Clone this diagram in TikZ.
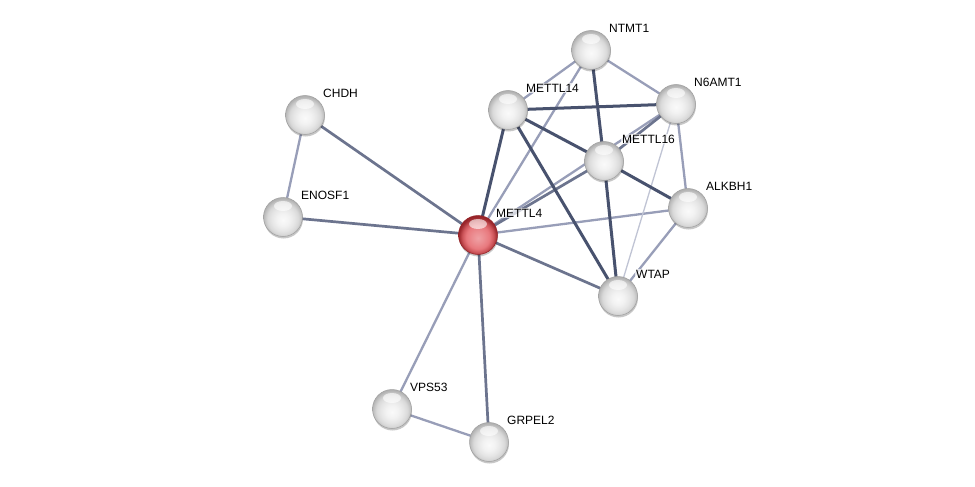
\documentclass[tikz,border=0pt]{standalone}
\usepackage{fontspec}
\setmainfont{Liberation Sans}
\usetikzlibrary{shadows}
\definecolor{edark}{RGB}{72,82,110}
\definecolor{emed}{RGB}{108,116,142}
\definecolor{elight}{RGB}{152,158,184}
\definecolor{evlight}{RGB}{192,196,212}
\definecolor{rbody}{RGB}{232,120,125}
\definecolor{rmid}{RGB}{205,85,90}
\definecolor{rrim}{RGB}{150,35,40}
\pgfdeclareradialshading{sball}{\pgfpoint{0bp}{-4bp}}{%
  color(0bp)=(gray!4); color(8bp)=(gray!10); color(15bp)=(gray!20); color(20bp)=(gray!30);
  color(24bp)=(gray!50); color(26bp)=(gray!62); color(50bp)=(gray!62)}
\pgfdeclareradialshading{rball}{\pgfpoint{0bp}{-4bp}}{%
  color(0bp)=(rbody!70!white); color(8bp)=(rbody!85!white); color(15bp)=(rbody); color(20bp)=(rmid);
  color(24bp)=(rrim!80!rmid); color(26bp)=(rrim); color(50bp)=(rrim)}
\tikzset{
  protein/.style={circle,minimum size=39pt,inner sep=0pt,shading=sball,draw=gray!75,line width=0.5pt,
    drop shadow={shadow xshift=0.5pt,shadow yshift=-2pt,opacity=0.22,fill=black},
    path picture={\fill[white,opacity=0.6] ([yshift=11pt]path picture bounding box.center) ellipse (9 and 5);}},
  query/.style={protein,shading=rball,draw=rrim},
  plabel/.style={anchor=west,font=\fontsize{12}{14}\selectfont,fill=white,fill opacity=0.7,text opacity=1,inner sep=1pt},
  dk/.style={draw=edark,line width=3pt},
  md/.style={draw=emed,line width=2.7pt},
  lt/.style={draw=elight,line width=2.3pt},
  vl/.style={draw=evlight,line width=1.3pt},
}
\begin{document}
\begin{tikzpicture}[x=1pt,y=-1pt]
\useasboundingbox[fill=white] (0,0) rectangle (975,487);
% node positions
\coordinate (pNTMT1) at (591,50);
\coordinate (pN6AMT1) at (676,104);
\coordinate (pMETTL14) at (508,110);
\coordinate (pCHDH) at (305,115);
\coordinate (pMETTL16) at (604,161);
\coordinate (pALKBH1) at (688,208);
\coordinate (pENOSF1) at (283,217);
\coordinate (pMETTL4) at (478,235);
\coordinate (pWTAP) at (618,296);
\coordinate (pVPS53) at (392,409);
\coordinate (pGRPEL2) at (489,442);
% edges
\draw[lt] (pCHDH) -- (pENOSF1);
\draw[md] (pCHDH) -- (pMETTL4);
\draw[md] (pENOSF1) -- (pMETTL4);
\draw[dk] (pMETTL4) -- (pMETTL14);
\draw[lt] (pMETTL4) -- (pNTMT1);
\draw[lt] (pMETTL4) -- (pN6AMT1);
\draw[md] (pMETTL4) -- (pMETTL16);
\draw[lt] (pMETTL4) -- (pALKBH1);
\draw[md] (pMETTL4) -- (pWTAP);
\draw[lt] (pMETTL4) -- (pVPS53);
\draw[md] (pMETTL4) -- (pGRPEL2);
\draw[lt] (pVPS53) -- (pGRPEL2);
\draw[lt] (pNTMT1) -- (pMETTL14);
\draw[lt] (pNTMT1) -- (pN6AMT1);
\draw[dk] (pNTMT1) -- (pMETTL16);
\draw[dk] (pMETTL14) -- (pN6AMT1);
\draw[dk] (pMETTL14) -- (pMETTL16);
\draw[dk] (pMETTL14) -- (pWTAP);
\draw[md] (pN6AMT1) -- (pMETTL16);
\draw[lt] (pN6AMT1) -- (pALKBH1);
\draw[vl] (pN6AMT1) -- (pWTAP);
\draw[dk] (pMETTL16) -- (pALKBH1);
\draw[dk] (pMETTL16) -- (pWTAP);
\draw[lt] (pALKBH1) -- (pWTAP);
% nodes
\foreach \n in {NTMT1,N6AMT1,METTL14,CHDH,METTL16,ALKBH1,ENOSF1,WTAP,VPS53,GRPEL2}{
  \node[protein] (\n) at (p\n) {};
  \node[plabel] (l\n) at ([xshift=17pt,yshift=22pt]p\n) {\n};
}
\node[query] (METTL4) at (pMETTL4) {};
\node[plabel] (lMETTL4) at ([xshift=17pt,yshift=22pt]pMETTL4) {METTL4};
\end{tikzpicture}
\end{document}
